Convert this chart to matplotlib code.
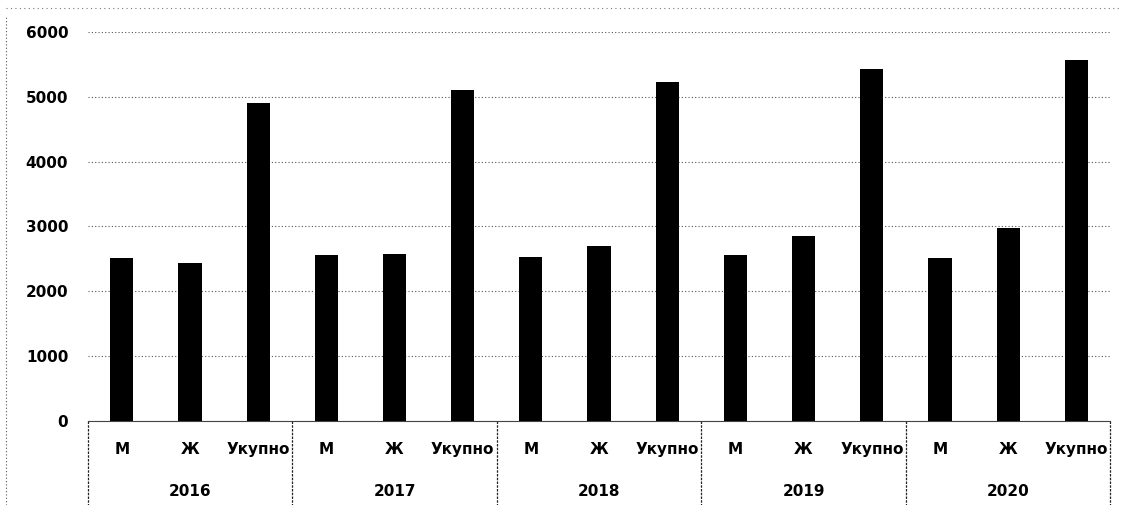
import numpy as np
import matplotlib.pyplot as plt

years = ['2016', '2017', '2018', '2019', '2020']
groups = ['М', 'Ж', 'Укупно']
male = [2510, 2560, 2530, 2560, 2510]
female = [2440, 2575, 2700, 2850, 2975]
total = [4910, 5110, 5230, 5430, 5570]

values = []
labels = []
for m, f, t in zip(male, female, total):
    values += [m, f, t]
    labels += groups
x = np.arange(len(values))

fig = plt.figure(figsize=(11.25, 5.05), dpi=100)
ax = fig.add_axes([0.078, 0.166, 0.909, 0.771])

ax.bar(x, values, width=0.34, color='black', zorder=3)

ax.set_xlim(-0.5, len(values) - 0.5)
ax.set_ylim(0, 6000)
ax.set_yticks(np.arange(0, 6001, 1000))
ax.tick_params(axis='y', length=0, pad=14, labelsize=11)
for t in ax.get_yticklabels():
    t.set_fontweight('bold')
ax.set_xticks([])
ax.grid(axis='y', color='#555555', linestyle=(0, (1, 2)), linewidth=0.8, zorder=0)
for s in ['top', 'right', 'left']:
    ax.spines[s].set_visible(False)
ax.spines['bottom'].set_linestyle((0, (2, 1)))
ax.spines['bottom'].set_color('#444444')

# two-level category axis
trans = ax.get_xaxis_transform()
for i, lab in enumerate(labels):
    ax.text(x[i], -0.072, lab, transform=trans, ha='center', va='center',
            fontsize=11, fontweight='bold', clip_on=False)
for j, yr in enumerate(years):
    ax.text(3 * j + 1, -0.18, yr, transform=trans, ha='center', va='center',
            fontsize=11, fontweight='bold', clip_on=False)
for b in np.arange(-0.5, len(values), 3):
    ax.plot([b, b], [0, -0.215], transform=trans, color='#222222',
            linestyle=(0, (2, 1)), linewidth=0.9, clip_on=False)

# faint border lines like the scan
fig.add_artist(plt.Line2D([0.005, 0.005], [0.0, 0.97], color='#555555',
                          linestyle=(0, (1, 2)), linewidth=0.8))
fig.add_artist(plt.Line2D([0.005, 0.995], [0.985, 0.985], color='#777777',
                          linestyle=(0, (1, 3)), linewidth=0.8))

fig.savefig('out.png', dpi=100)
